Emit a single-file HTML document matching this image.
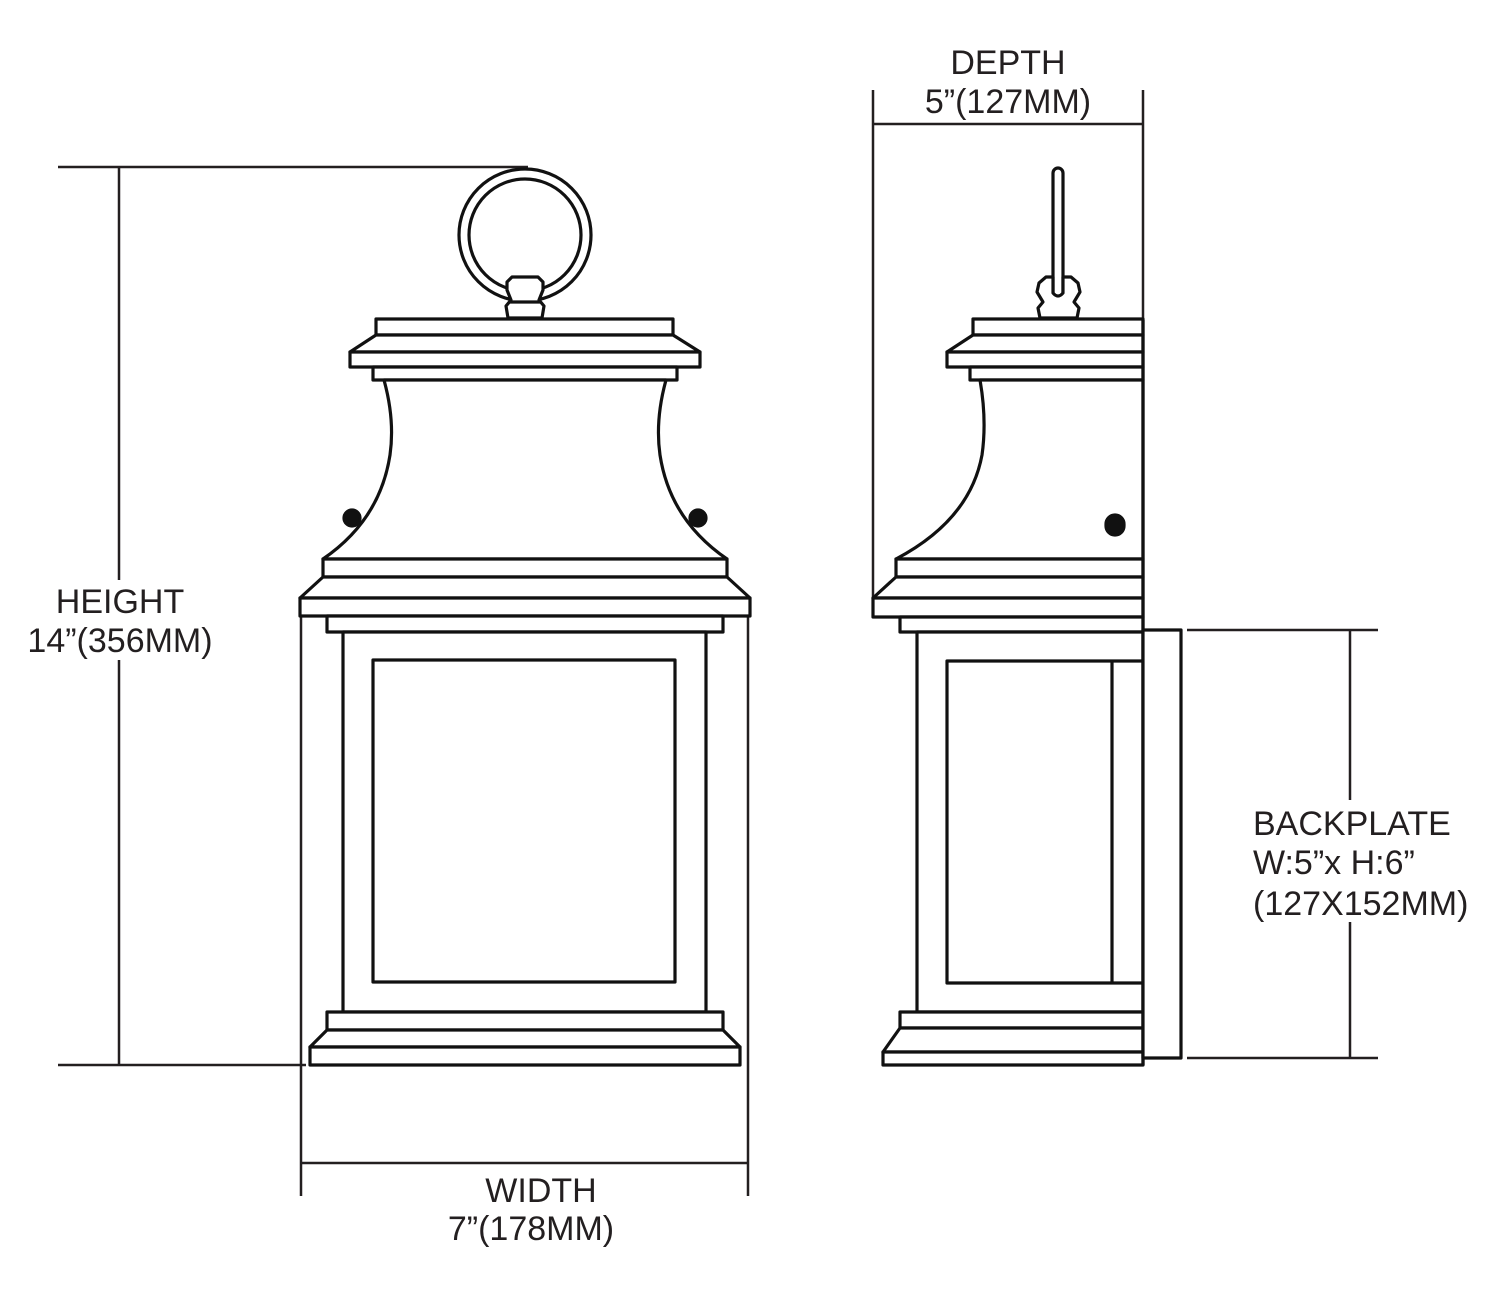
<!DOCTYPE html>
<html><head><style>
html,body{margin:0;padding:0;background:#fff;}
svg{display:block;}
text{font-family:"Liberation Sans",sans-serif;font-size:34px;fill:#231f20;}
</style></head><body>
<svg width="1500" height="1297" viewBox="0 0 1500 1297" xmlns="http://www.w3.org/2000/svg">
<g stroke="#231f20" stroke-width="2.5" fill="none">
<line x1="58" y1="167" x2="528" y2="167"/>
<line x1="119" y1="167" x2="119" y2="580"/>
<line x1="119" y1="660" x2="119" y2="1065"/>
<line x1="58" y1="1065" x2="306" y2="1065"/>
<line x1="301" y1="612" x2="301" y2="1196"/>
<line x1="748" y1="612" x2="748" y2="1196"/>
<line x1="301" y1="1163" x2="748" y2="1163"/>
<line x1="873" y1="90" x2="873" y2="598"/>
<line x1="1143" y1="90" x2="1143" y2="320"/>
<line x1="873" y1="124" x2="1143" y2="124"/>
<line x1="1187" y1="630" x2="1378" y2="630"/>
<line x1="1187" y1="1058" x2="1378" y2="1058"/>
<line x1="1350" y1="630" x2="1350" y2="800"/>
<line x1="1350" y1="922" x2="1350" y2="1058"/>
</g>
<g stroke="#111" stroke-width="3.2" fill="#fff" stroke-linejoin="round">
<circle cx="525" cy="235" r="66"/>
<circle cx="525" cy="235" r="56"/>
<path d="M508 318 L506 306 L511 300 L507 290 L507 282 L512 277 L538 277 L543 282 L543 290 L539 300 L544 306 L542 318 Z"/>
<line x1="510" y1="302" x2="540" y2="302"/>
<rect x="376" y="319" width="297" height="16"/>
<path d="M376 335 L350 352 L700 352 L673 335 Z"/>
<rect x="350" y="352" width="350" height="15"/>
<rect x="373" y="367" width="304" height="13"/>
<path d="M384 380 Q395 420 390 455 Q380 520 323 559 L727 559 Q670 520 660 455 Q655 420 666 380 Z"/>
<circle cx="352" cy="518" r="8" fill="#111"/>
<circle cx="698" cy="518" r="8" fill="#111"/>
<rect x="323" y="559" width="404" height="18"/>
<path d="M323 577 L300 598 L750 598 L727 577 Z"/>
<rect x="300" y="598" width="450" height="18"/>
<rect x="327" y="616" width="396" height="16"/>
<rect x="343" y="632" width="363" height="380"/>
<rect x="373" y="660" width="302" height="322"/>
<rect x="327" y="1012" width="396" height="18"/>
<path d="M327 1030 L310 1047 L740 1047 L723 1030 Z"/>
<rect x="310" y="1047" width="430" height="18"/>
<rect x="1053" y="168" width="10" height="130" rx="5"/>
<path d="M1040 318 L1038 308 L1043 302 L1037 292 L1039 283 L1046 277 L1053 277 L1053 293 Q1058 299 1063 293 L1063 277 L1071 277 L1078 283 L1080 292 L1074 302 L1079 308 L1077 318 Z"/>
<rect x="973" y="319" width="170" height="16"/>
<path d="M973 335 L947 352 L1143 352 L1143 335 Z"/>
<rect x="947" y="352" width="196" height="15"/>
<rect x="970" y="367" width="173" height="13"/>
<path d="M980 380 Q987 420 982 455 Q970 520 896 559 L1143 559 L1143 380 Z"/>
<rect x="1106" y="515" width="18" height="20" rx="9" fill="#111"/>
<rect x="896" y="559" width="247" height="18"/>
<path d="M896 577 L873 598 L1143 598 L1143 577 Z"/>
<rect x="873" y="598" width="270" height="19"/>
<rect x="900" y="617" width="243" height="15"/>
<rect x="917" y="632" width="226" height="380"/>
<rect x="947" y="661" width="196" height="322"/>
<line x1="1112" y1="661" x2="1112" y2="983"/>
<rect x="900" y="1012" width="243" height="16"/>
<path d="M900 1028 L883 1052 L1143 1052 L1143 1028 Z"/>
<rect x="883" y="1052" width="260" height="13"/>
<line x1="1143" y1="320" x2="1143" y2="1065"/>
<rect x="1143" y="630" width="38" height="428"/>
</g>
<text x="120" y="613" text-anchor="middle">HEIGHT</text>
<text x="120" y="652" text-anchor="middle">14”(356MM)</text>
<text x="541" y="1202" text-anchor="middle">WIDTH</text>
<text x="531" y="1240" text-anchor="middle">7”(178MM)</text>
<text x="1008" y="74" text-anchor="middle">DEPTH</text>
<text x="1008" y="113" text-anchor="middle">5”(127MM)</text>
<text x="1253" y="835">BACKPLATE</text>
<text x="1253" y="874">W:5”x H:6”</text>
<text x="1253" y="915">(127X152MM)</text>
</svg>
</body></html>
